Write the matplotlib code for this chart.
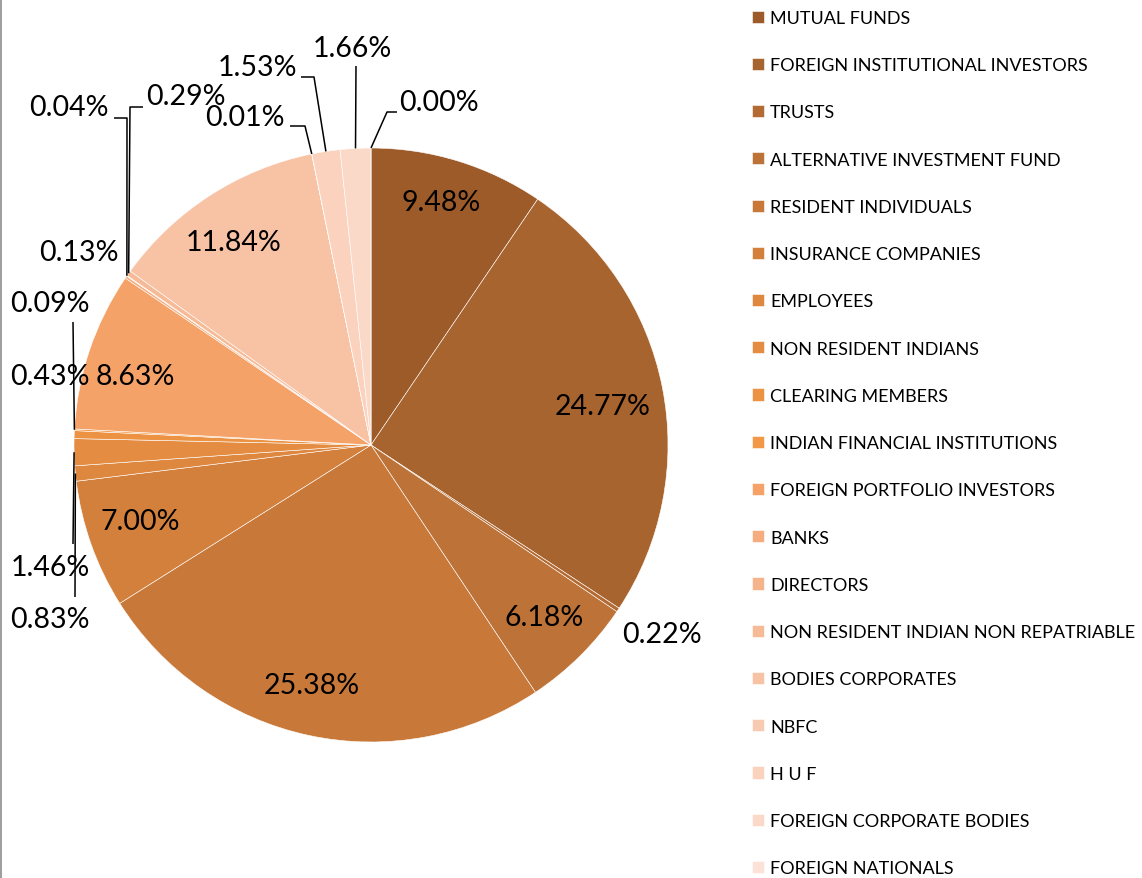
import matplotlib
matplotlib.use('Agg')
import numpy as np
from matplotlib import pyplot as plt
from matplotlib.lines import Line2D

categories = ['MUTUAL FUNDS', 'FOREIGN INSTITUTIONAL INVESTORS', 'TRUSTS',
              'ALTERNATIVE INVESTMENT FUND', 'RESIDENT INDIVIDUALS',
              'INSURANCE COMPANIES', 'EMPLOYEES', 'NON RESIDENT INDIANS',
              'CLEARING MEMBERS', 'INDIAN FINANCIAL INSTITUTIONS',
              'FOREIGN PORTFOLIO INVESTORS', 'BANKS', 'DIRECTORS',
              'NON RESIDENT INDIAN NON REPATRIABLE', 'BODIES CORPORATES',
              'NBFC', 'H U F', 'FOREIGN CORPORATE BODIES', 'FOREIGN NATIONALS']
shares = [9.48, 24.77, 0.22, 6.18, 25.38, 7.00, 0.83, 1.46, 0.43, 0.09,
          8.63, 0.13, 0.04, 0.29, 11.84, 0.01, 1.53, 1.66, 0.00]

colors = ['#9d5b2a', '#a8642e', '#b36b33', '#bd7237', '#c8793a', '#d3803d',
          '#dd873f', '#e48c41', '#ec9243', '#f29846', '#f4a268', '#f5ac7e',
          '#f6b48c', '#f7ba97', '#f8c2a5', '#f9cab2', '#fad2bd', '#fbd9c9',
          '#fce1d6']

# label centres in pixels (x, y from top)
label_pos = [(441, 203), (603, 407), (662, 635), (544, 618), (312, 686),
             (140, 522), (50, 620), (50, 568), (50, 377), (50, 304),
             (135, 377), (79, 253), (69, 108), (186, 97), (234, 243),
             (245, 118), (257, 68), (352, 49), (439, 103)]
# leader line points on the label side (pixels); wedge end added below
leaders = {
    6: [(75, 598)],
    7: [(73, 545)],
    9: [(73, 323)],
    12: [(114, 119), (127, 119)],
    13: [(143, 108), (130, 108)],
    15: [(290, 127), (305, 127)],
    16: [(301, 78), (314, 78)],
    17: [(356, 67)],
    18: [(397, 113), (387, 113)],
}

W, H = 1142, 879
plt.rcParams['font.family'] = ['Lato', 'DejaVu Sans']
fig = plt.figure(figsize=(W / 100, H / 100), dpi=100)
ax = fig.add_axes([0, 0, 1, 1])

cx, cy, r = 371, 446, 297
wedges, _ = ax.pie(shares, colors=colors, startangle=90, counterclock=False,
                   center=(cx, H - cy), radius=r,
                   wedgeprops=dict(edgecolor='white', linewidth=0.4))
ax.set_xlim(0, W)
ax.set_ylim(0, H)
ax.axis('off')

for i, v in enumerate(shares):
    x, y = label_pos[i]
    ax.text(x, H - y, f'{v:.2f}%', ha='center', va='center', fontsize=20.5, color='black')

for i, pts in leaders.items():
    w = wedges[i]
    th = np.deg2rad((w.theta1 + w.theta2) / 2)
    ex, ey = cx + r * np.cos(th), (H - cy) + r * np.sin(th)
    xs = [p[0] for p in pts] + [ex]
    ys = [H - p[1] for p in pts] + [ey]
    ax.plot(xs, ys, color='black', lw=1.1, solid_capstyle='butt')

ax.legend(wedges, categories, loc='upper left',
          bbox_to_anchor=(752 / W, 1 - 11 / H), frameon=False, fontsize=13,
          handlelength=0.66, handleheight=0.66, handletextpad=0.33,
          labelspacing=1.73, borderpad=0, borderaxespad=0)

fig.add_artist(Line2D([1 / W, 1 / W], [0, 1], color='#8c8c8c', lw=1.2))

fig.savefig('out.png', dpi=100)
